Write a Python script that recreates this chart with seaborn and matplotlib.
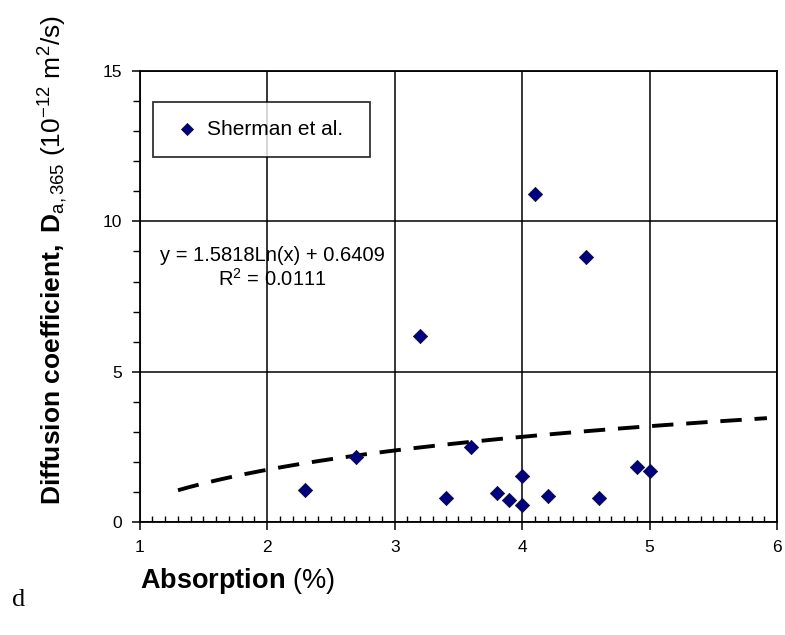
import numpy as np
import pandas as pd
import seaborn as sns
import matplotlib.pyplot as plt
from matplotlib.ticker import MultipleLocator

sns.set_theme(style="white")
plt.rcParams['font.family'] = ['Liberation Sans', 'DejaVu Sans']
plt.rcParams['mathtext.fontset'] = 'custom'
plt.rcParams['mathtext.rm'] = 'Liberation Sans'
plt.rcParams['mathtext.bf'] = 'Liberation Sans:bold'
plt.rcParams['mathtext.it'] = 'Liberation Sans:italic'
plt.rcParams['text.color'] = 'black'
plt.rcParams['axes.labelcolor'] = 'black'
plt.rcParams['xtick.color'] = 'black'
plt.rcParams['ytick.color'] = 'black'

# Sherman et al. data
absorption = [2.3, 2.7, 3.2, 3.4, 3.6, 3.8, 3.9, 4.0, 4.0, 4.1, 4.2, 4.5, 4.6, 4.9, 5.0]
diffusion = [1.08, 2.16, 6.2, 0.8, 2.49, 0.96, 0.74, 1.53, 0.58, 10.9, 0.85, 8.81, 0.8, 1.83, 1.7]

# log trendline as printed on the chart
coef_a = 1.5818
coef_b = 0.6409
r2 = 0.0111
trend_x = np.linspace(1.3, 5.92, 200)
trend_y = coef_a * np.log(trend_x) + coef_b

df = pd.DataFrame({"x": absorption, "y": diffusion})
trend = pd.DataFrame({"x": trend_x, "y": trend_y})

fig, ax = plt.subplots(figsize=(7.85, 6.35), dpi=100)
fig.subplots_adjust(left=0.178, right=0.990, top=0.888, bottom=0.178)

sns.lineplot(data=trend, x="x", y="y", ax=ax, color="black", lw=2.8,
             dashes=False, zorder=2)
ax.lines[0].set_dashes((5.5, 3.3))
sns.scatterplot(data=df, x="x", y="y", ax=ax, marker="D", s=52, color="#000080",
                edgecolor="#111133", linewidth=0.6, zorder=3, label="Sherman et al.")

ax.set_xlim(1, 6)
ax.set_ylim(0, 15)
ax.set_xticks([1, 2, 3, 4, 5, 6])
ax.set_yticks([0, 5, 10, 15])
ax.xaxis.set_minor_locator(MultipleLocator(0.1))
ax.yaxis.set_minor_locator(MultipleLocator(1))
ax.grid(True, which="major", color="black", lw=1.1)
ax.tick_params(axis="both", which="major", direction="out", length=6, width=1.1,
               color="black", labelcolor="black", labelsize=12.5, pad=7,
               bottom=True, left=True)
ax.tick_params(axis="x", which="minor", direction="in", length=4, width=1, color="black", bottom=True)
ax.tick_params(axis="y", which="minor", direction="out", length=5, width=1, color="black", left=True)
for sp in ax.spines.values():
    sp.set_color("black")
    sp.set_linewidth(1.3)

ax.text(2.04, 8.88, "y = 1.5818Ln(x) + 0.6409", ha="center", va="center", fontsize=14.5)
ax.text(2.04, 8.08, "R$^2$ = " + f"{r2:.4f}", ha="center", va="center", fontsize=14.5)

leg = ax.legend(loc="upper left", bbox_to_anchor=(0.021, 0.811, 0.341, 0.12), mode="expand",
                borderaxespad=0, fontsize=15, frameon=True, fancybox=False,
                edgecolor="black", borderpad=0.85, handlelength=1.6,
                handletextpad=0.15, markerscale=0.85)
leg.get_frame().set_linewidth(1.3)

ax.set_ylabel(r"$\mathbf{Diffusion\ coefficient,\ D}_{\mathrm{a,365}}$ (10$^{-12}$ m$^{2}$/s)",
              fontsize=19)
ax.yaxis.set_label_coords(-0.11, 0.58)
ax.set_xlabel(r"$\mathbf{Absorption}$ (%)", fontsize=19.5, loc="left")
ax.xaxis.set_label_coords(0.0, -0.097)

fig.text(12 / 785, 1 - 600 / 635, "d", family="Liberation Serif", fontsize=19, va="center")

fig.savefig("out.png", dpi=100)
